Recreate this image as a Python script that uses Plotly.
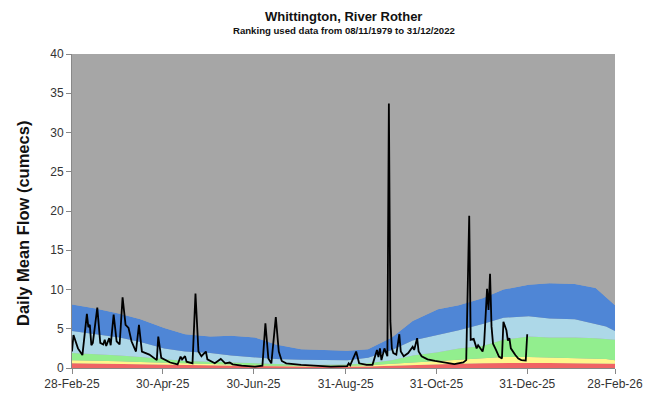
import plotly.graph_objects as go

# ---- Band boundaries (upper edge of each band, cumecs) ----
band_dates = ["2025-02-28", "2025-03-15", "2025-04-01", "2025-04-15", "2025-05-01",
              "2025-05-15", "2025-06-01", "2025-06-15", "2025-07-01", "2025-07-15",
              "2025-08-01", "2025-08-15", "2025-09-01", "2025-09-15", "2025-10-01",
              "2025-10-15", "2025-11-01", "2025-11-15", "2025-12-01", "2025-12-15",
              "2026-01-01", "2026-01-15", "2026-02-01", "2026-02-15", "2026-02-22",
              "2026-02-28"]
red_top = [0.6, 0.55, 0.5, 0.45, 0.4, 0.35, 0.3, 0.25, 0.22, 0.2, 0.18, 0.17, 0.18, 0.2,
           0.3, 0.4, 0.5, 0.55, 0.6, 0.65, 0.65, 0.65, 0.62, 0.6, 0.58, 0.55]
yellow_top = [1.0, 0.95, 0.85, 0.75, 0.65, 0.55, 0.45, 0.4, 0.35, 0.3, 0.28, 0.27, 0.3, 0.35,
              0.5, 0.7, 0.9, 1.05, 1.2, 1.4, 1.4, 1.35, 1.3, 1.2, 1.15, 1.0]
green_top = [1.9, 1.8, 1.6, 1.4, 1.1, 0.9, 0.8, 0.7, 0.55, 0.45, 0.4, 0.4, 0.45, 0.6,
             1.0, 1.6, 2.0, 2.5, 2.8, 3.6, 4.0, 3.9, 3.9, 3.8, 3.7, 3.6]
lightblue_top = [4.7, 4.3, 3.9, 3.3, 2.5, 2.1, 1.9, 1.6, 1.4, 1.15, 1.05, 1.0, 1.0, 1.3,
                 2.3, 3.5, 4.2, 4.8, 5.6, 6.4, 6.6, 6.3, 6.2, 5.6, 5.3, 4.7]
blue_top = [8.1, 7.6, 6.9, 6.2, 5.1, 4.3, 4.0, 4.1, 3.9, 3.0, 2.4, 2.3, 2.2, 2.4,
            3.9, 6.0, 7.5, 8.0, 8.9, 10.0, 10.6, 10.8, 10.7, 10.2, 9.0, 8.0]
grey_top = [40] * len(band_dates)

# ---- Observed daily mean flow ----
flow_dates = ["2025-02-28", "2025-03-01", "2025-03-04", "2025-03-07", "2025-03-10",
              "2025-03-11", "2025-03-12", "2025-03-13", "2025-03-14", "2025-03-17",
              "2025-03-19", "2025-03-21", "2025-03-22", "2025-03-23", "2025-03-25",
              "2025-03-26", "2025-03-28", "2025-03-30", "2025-04-01", "2025-04-03",
              "2025-04-05", "2025-04-07", "2025-04-09", "2025-04-12", "2025-04-14",
              "2025-04-16", "2025-04-21", "2025-04-26", "2025-04-27", "2025-04-29",
              "2025-05-05", "2025-05-08", "2025-05-10", "2025-05-12", "2025-05-13",
              "2025-05-15", "2025-05-16", "2025-05-20", "2025-05-22", "2025-05-24",
              "2025-05-26", "2025-05-27", "2025-05-29", "2025-05-30", "2025-06-04",
              "2025-06-08", "2025-06-11", "2025-06-14", "2025-06-16", "2025-06-22",
              "2025-07-01", "2025-07-06", "2025-07-08", "2025-07-10", "2025-07-12",
              "2025-07-15", "2025-07-17", "2025-07-19", "2025-07-22", "2025-08-01",
              "2025-08-09", "2025-08-21", "2025-09-01", "2025-09-02", "2025-09-03",
              "2025-09-07", "2025-09-09", "2025-09-14", "2025-09-18", "2025-09-21",
              "2025-09-22", "2025-09-23", "2025-09-24", "2025-09-26", "2025-09-28",
              "2025-09-29", "2025-09-30", "2025-10-01", "2025-10-02", "2025-10-04",
              "2025-10-06", "2025-10-07", "2025-10-09", "2025-10-12", "2025-10-15",
              "2025-10-16", "2025-10-18", "2025-10-19", "2025-10-21", "2025-10-25",
              "2025-10-30", "2025-11-05", "2025-11-12", "2025-11-18", "2025-11-20",
              "2025-11-22", "2025-11-23", "2025-11-25", "2025-11-27", "2025-11-28",
              "2025-12-01", "2025-12-02", "2025-12-04", "2025-12-05", "2025-12-06",
              "2025-12-07", "2025-12-08", "2025-12-10", "2025-12-12", "2025-12-14",
              "2025-12-15", "2025-12-17", "2025-12-18", "2025-12-19", "2025-12-20",
              "2025-12-23", "2025-12-25", "2025-12-27", "2025-12-30", "2025-12-31"]
flow_values = [2.1, 4.2, 2.5, 1.65, 6.9,
               5.2, 5.5, 2.9, 3.2, 7.7,
               3.2, 3.0, 3.6, 2.8, 3.8,
               2.9, 6.8, 3.4, 3.0, 9.0,
               5.5, 5.1, 3.4, 2.1, 5.5,
               2.1, 1.7, 1.0, 4.0, 1.3,
               0.7, 0.55, 0.45, 1.45, 1.1,
               1.5, 0.8, 0.6, 9.5, 2.1,
               1.5, 1.7, 2.1, 1.1, 0.6,
               1.15, 0.6, 0.7, 0.47, 0.3,
               0.17, 0.3, 5.7, 1.2, 0.6,
               6.5, 2.1, 0.9, 0.6, 0.4,
               0.3, 0.17, 0.25, 0.6, 0.35,
               2.1, 0.6, 0.4, 0.4, 2.3,
               1.4, 2.5, 1.0, 2.5, 1.5,
               33.7, 6.0, 2.5, 1.9, 1.7,
               4.3, 2.1, 1.5, 1.9, 2.7,
               2.3, 3.8, 2.1, 1.5, 1.1,
               0.9, 0.7, 0.5, 0.7, 1.0,
               19.4, 3.6, 3.7, 2.5, 2.9,
               2.1, 3.0, 10.1, 7.4, 12.0,
               5.3, 3.1, 2.3, 1.45, 1.2,
               5.9, 4.8, 3.5, 3.8, 2.5,
               1.66, 1.2, 1.0, 0.95, 4.3]

tick_dates = ["2025-02-28", "2025-04-30", "2025-06-30", "2025-08-31",
              "2025-10-31", "2025-12-31", "2026-02-28"]
tick_labels = ["28-Feb-25", "30-Apr-25", "30-Jun-25", "31-Aug-25",
               "31-Oct-25", "31-Dec-25", "28-Feb-26"]
y_ticks = [0, 5, 10, 15, 20, 25, 30, 35, 40]

band_specs = [
    (red_top, "#f06464", "tozeroy"),
    (yellow_top, "#fff78c", "tonexty"),
    (green_top, "#92ee8e", "tonexty"),
    (lightblue_top, "#add8e8", "tonexty"),
    (blue_top, "#4f86d6", "tonexty"),
    (grey_top, "#a6a6a6", "tonexty"),
]

fig = go.Figure()
for ys, col, fillmode in band_specs:
    fig.add_trace(go.Scatter(x=band_dates, y=ys, mode="lines", line=dict(width=0, color=col),
                             fill=fillmode, fillcolor=col, showlegend=False, hoverinfo="skip"))

fig.add_trace(go.Scatter(x=flow_dates, y=flow_values, mode="lines",
                         line=dict(color="black", width=1.8), showlegend=False))

# The page body adds an 8px offset, so the figure is sized to fit the window.
W, H = 645, 391
ML, MR, MT, MB = 64, 38, 46, 31
plot_w = W - ML - MR
plot_h = H - MT - MB

font_family = "Liberation Sans, Arial, sans-serif"
fig.update_layout(
    width=W, height=H,
    margin=dict(l=ML, r=MR, t=MT, b=MB, autoexpand=False),
    paper_bgcolor="white",
    plot_bgcolor="#a6a6a6",
    font=dict(family=font_family, size=12, color="#333333"),
    showlegend=False,
    xaxis=dict(type="date", range=["2025-02-28", "2026-02-28"],
               tickmode="array", tickvals=tick_dates, ticktext=tick_labels,
               ticks="outside", ticklen=5, tickcolor="#888888",
               showline=True, linecolor="#888888", linewidth=1,
               showgrid=False, zeroline=False,
               tickfont=dict(size=12, color="#333333")),
    yaxis=dict(range=[0, 40], tickmode="array", tickvals=y_ticks,
               ticks="outside", ticklen=5, tickcolor="#888888",
               showline=True, linecolor="#888888", linewidth=1,
               showgrid=False, zeroline=False,
               tickfont=dict(size=12, color="#333333")),
    annotations=[
        dict(text="<b>Whittington, River Rother</b>", x=0.5,
             y=(H - MB - 9) / plot_h, xref="paper", yref="paper",
             showarrow=False, font=dict(size=13, color="#111111", family=font_family),
             xanchor="center", yanchor="middle"),
        dict(text="<b>Ranking used data from 08/11/1979 to 31/12/2022</b>", x=0.5,
             y=(H - MB - 23) / plot_h, xref="paper", yref="paper", showarrow=False,
             font=dict(size=9.6, color="#111111", family=font_family),
             xanchor="center", yanchor="middle"),
        dict(text="<b>Daily Mean Flow (cumecs)</b>", x=(15 - ML) / plot_w,
             y=(H - MB - 216) / plot_h,
             xref="paper", yref="paper", showarrow=False, textangle=-90,
             font=dict(size=16.5, color="#111111", family=font_family),
             xanchor="center", yanchor="middle"),
    ],
)

fig.write_html("out.html")
